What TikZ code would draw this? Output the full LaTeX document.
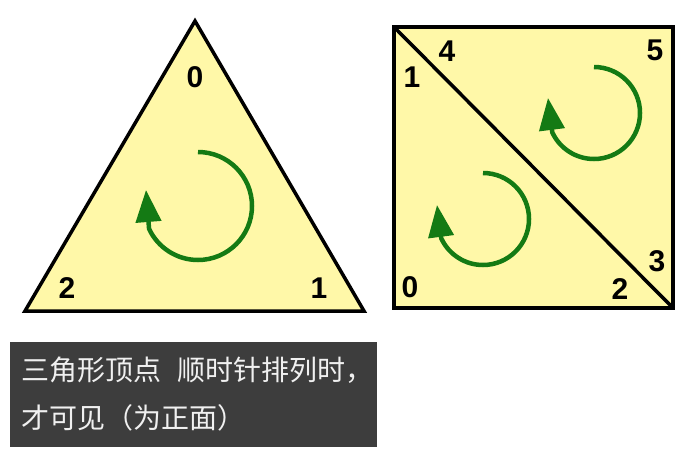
\documentclass[tikz,border=0pt]{standalone}
\usepackage{fontspec}
\usepackage{tikz}
\usetikzlibrary{shapes,arrows,arrows.meta}
\usetikzlibrary{positioning}

\newfontfamily\numfont{Liberation Sans}
\newfontfamily\cjkfont{Noto Sans CJK SC}
\definecolor{paleyellow}{RGB}{255,248,168}
\definecolor{spingreen}{RGB}{20,122,20}
\definecolor{boxgray}{RGB}{61,61,61}
\definecolor{captext}{RGB}{240,240,240}

\tikzset{
  outline/.style={draw=black,line width=3.5pt,fill=paleyellow,line join=miter},
  vlabel/.style={font=\numfont\bfseries\fontsize{30}{30}\selectfont,inner sep=0pt},
  spin/.style={draw=spingreen,line width=4.5pt,line join=round,-{Triangle[length=32pt,width=25pt]}},
  caption/.style={font=\cjkfont\fontsize{28}{28}\selectfont,text=captext,inner sep=0pt,anchor=west}
}

\begin{document}
\begin{tikzpicture}[x=1pt,y=-1pt]
\useasboundingbox (0,0) rectangle (700,458);

% triangle
\coordinate (t0) at (195,21);
\coordinate (t1) at (364,311);
\coordinate (t2) at (25,311);
\draw[outline] (t0) -- (t1) -- (t2) -- cycle;
\node[vlabel] (n0) at (195,77) {0};
\node[vlabel] (n1) at (319,288) {1};
\node[vlabel] (n2) at (67,288) {2};
\draw[spin] (198,152) arc[start angle=-90,end angle=155,radius=54] -- (146,190);

% square made of two triangles
\coordinate (sa) at (394,27);
\coordinate (sb) at (673,27);
\coordinate (sc) at (673,308);
\coordinate (sd) at (394,308);
\draw[outline] (sa) -- (sb) -- (sc) -- (sd) -- cycle;
\draw[black,line width=3.5pt] (sa) -- (sc);
\node[vlabel] (q0) at (410,287) {0};
\node[vlabel] (q1) at (412,77) {1};
\node[vlabel] (q2) at (620,289) {2};
\node[vlabel] (q3) at (657,261) {3};
\node[vlabel] (q4) at (447,51) {4};
\node[vlabel] (q5) at (655,50) {5};
\draw[spin] (594,67) arc[start angle=-90,end angle=155,radius=46] -- (548,98);
\draw[spin] (483,173) arc[start angle=-90,end angle=155,radius=46] -- (437,205);

% caption
\fill[boxgray] (10,342) rectangle (377,447);
\node[caption] (cap1) at (21,370) {三角形顶点\hspace{16pt}顺时针排列时，};
\node[caption] (cap2) at (21,418) {才可见（为正面）};
\end{tikzpicture}
\end{document}
